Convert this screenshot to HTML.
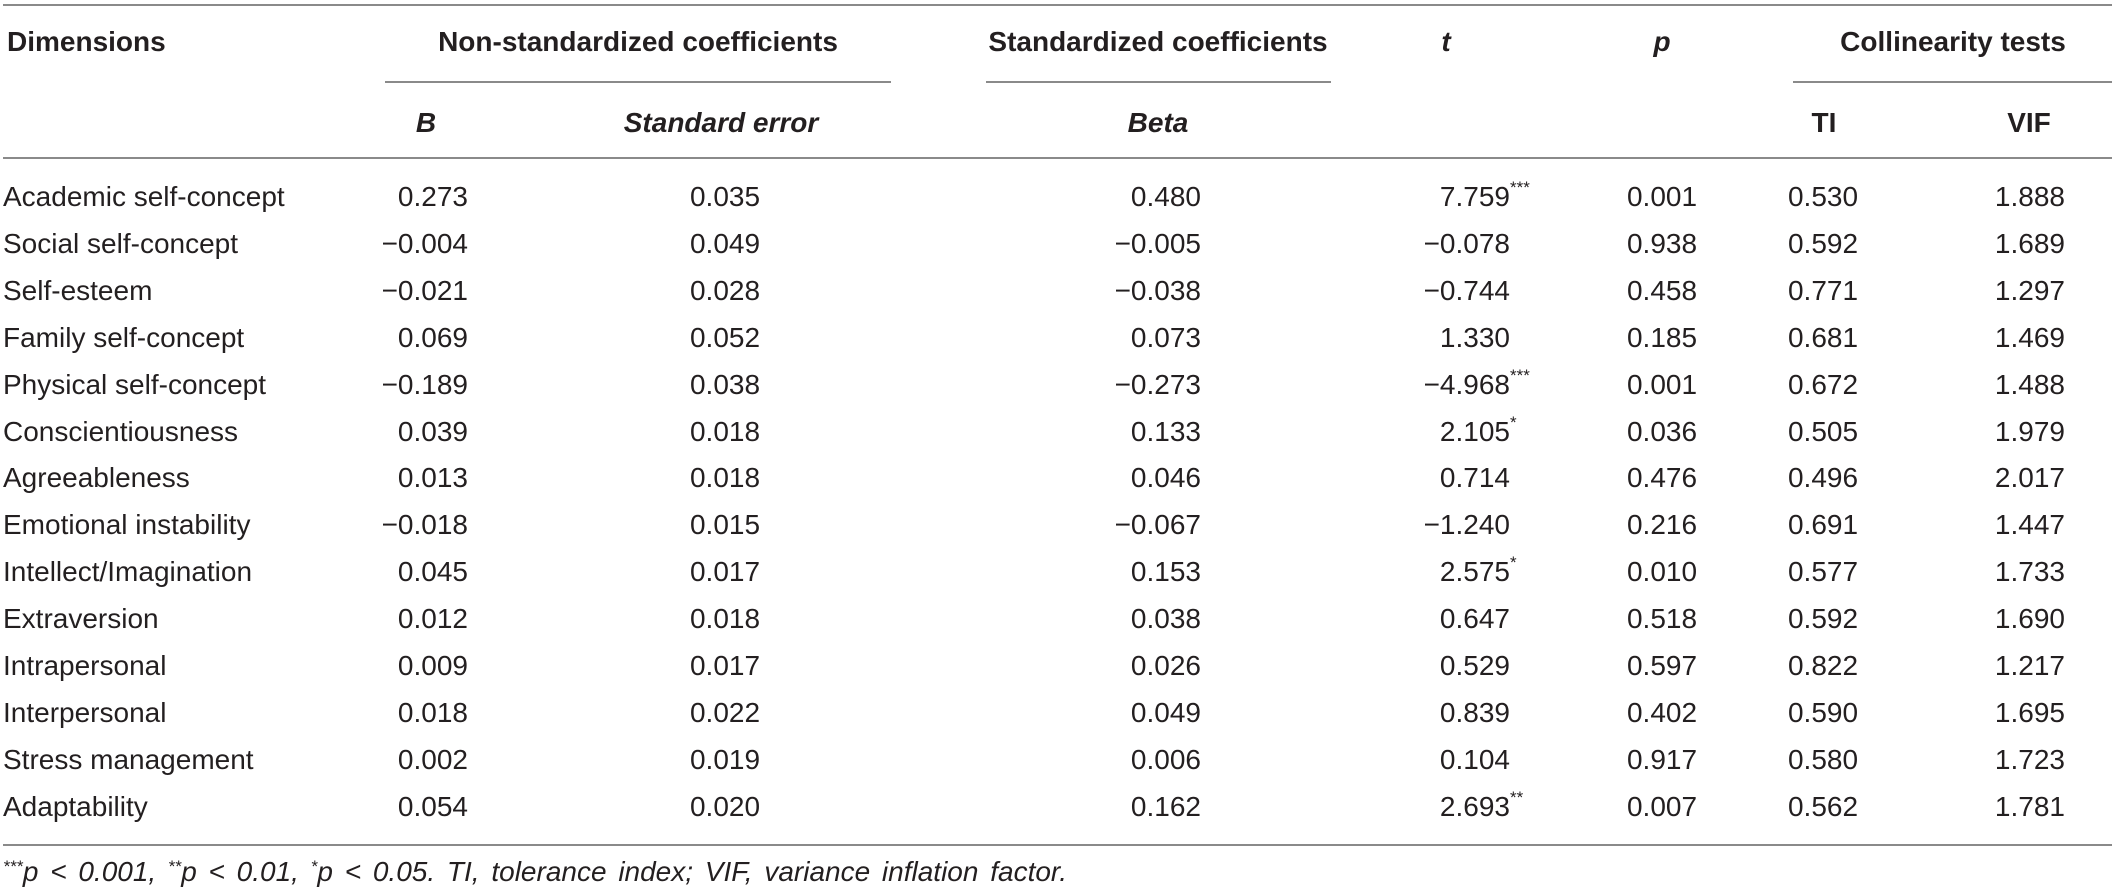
<!DOCTYPE html>
<html><head><meta charset="utf-8">
<style>
html,body{margin:0;padding:0;background:#fff;}
#t{position:relative;width:2118px;height:893px;overflow:hidden;font-family:"Liberation Sans",Arial,sans-serif;color:#231f20;}
.c{position:absolute;height:40px;line-height:40px;font-size:28px;white-space:nowrap;}
.h{font-weight:bold;}
.i{font-style:italic;}
.rule{position:absolute;height:2px;background:#8a8a8a;}
.star{font-size:17px;position:relative;top:-9px;}
</style></head><body>
<div id="t">
  <div class="rule" style="left:3px;top:4px;width:2109px"></div>
  <div class="rule" style="left:385px;top:81px;width:506px"></div>
  <div class="rule" style="left:986px;top:81px;width:345px"></div>
  <div class="rule" style="left:1793px;top:81px;width:319px"></div>
  <div class="rule" style="left:3px;top:157px;width:2109px"></div>
  <div class="rule" style="left:3px;top:844px;width:2109px"></div>

  <div class="c h" style="left:7px;top:22px">Dimensions</div>
  <div class="c h" style="left:638px;top:22px;transform:translateX(-50%)">Non-standardized coefficients</div>
  <div class="c h" style="left:1158px;top:22px;transform:translateX(-50%)">Standardized coefficients</div>
  <div class="c h i" style="left:1446px;top:22px;transform:translateX(-50%)">t</div>
  <div class="c h i" style="left:1662px;top:22px;transform:translateX(-50%)">p</div>
  <div class="c h" style="left:1953px;top:22px;transform:translateX(-50%)">Collinearity tests</div>

  <div class="c h i" style="left:426px;top:103px;transform:translateX(-50%)">B</div>
  <div class="c h i" style="left:721px;top:103px;transform:translateX(-50%)">Standard error</div>
  <div class="c h i" style="left:1158px;top:103px;transform:translateX(-50%)">Beta</div>
  <div class="c h" style="left:1824px;top:103px;transform:translateX(-50%)">TI</div>
  <div class="c h" style="left:2029px;top:103px;transform:translateX(-50%)">VIF</div>

  <div class="c i" style="left:3px;top:852px;font-size:28px;word-spacing:4px"><span class="star" style="font-size:17px;top:-9px">***</span>p &lt; 0.001, <span class="star" style="font-size:17px;top:-9px">**</span>p &lt; 0.01, <span class="star" style="font-size:17px;top:-9px">*</span>p &lt; 0.05. TI, tolerance index; VIF, variance inflation factor.</div>
</div>
<script>
const dims = ["Academic self-concept","Social self-concept","Self-esteem","Family self-concept","Physical self-concept","Conscientiousness","Agreeableness","Emotional instability","Intellect/Imagination","Extraversion","Intrapersonal","Interpersonal","Stress management","Adaptability"];
const bVals = ["0.273","\u22120.004","\u22120.021","0.069","\u22120.189","0.039","0.013","\u22120.018","0.045","0.012","0.009","0.018","0.002","0.054"];
const seVals = ["0.035","0.049","0.028","0.052","0.038","0.018","0.018","0.015","0.017","0.018","0.017","0.022","0.019","0.020"];
const betaVals = ["0.480","\u22120.005","\u22120.038","0.073","\u22120.273","0.133","0.046","\u22120.067","0.153","0.038","0.026","0.049","0.006","0.162"];
const tVals = ["7.759","\u22120.078","\u22120.744","1.330","\u22124.968","2.105","0.714","\u22121.240","2.575","0.647","0.529","0.839","0.104","2.693"];
const tStars = ["***","","","","***","*","","","*","","","","","**"];
const pVals = ["0.001","0.938","0.458","0.185","0.001","0.036","0.476","0.216","0.010","0.518","0.597","0.402","0.917","0.007"];
const tiVals = ["0.530","0.592","0.771","0.681","0.672","0.505","0.496","0.691","0.577","0.592","0.822","0.590","0.580","0.562"];
const vifVals = ["1.888","1.689","1.297","1.469","1.488","1.979","2.017","1.447","1.733","1.690","1.217","1.695","1.723","1.781"];

const root = document.getElementById('t');
function rowY(i){ return 197 + 46.9*i; }
function cell(text, x, align, i, name){
  const el = document.createElement('div');
  el.className = 'c';
  
  
  el.textContent = text;
  el.style.top = (rowY(i) - 20) + 'px';
  if (align === 'left') el.style.left = x + 'px';
  else if (align === 'right') el.style.right = (2118 - x) + 'px';
  else { el.style.left = x + 'px'; el.style.transform = 'translateX(-50%)'; }
  root.appendChild(el);
  return el;
}
dims.forEach((d, i) => {
  cell(d, 3, 'left', i, 'dimension-label');
  cell(bVals[i], 468, 'right', i, 'b-value');
  cell(seVals[i], 725, 'center', i, 'se-value');
  cell(betaVals[i], 1201, 'right', i, 'beta-value');
  const tc = cell(tVals[i], 1510, 'right', i, 't-value');
  if (tStars[i]) {
    const s = document.createElement('span');
    
    
    s.className = 'star';
    s.style.position = 'absolute';
    s.style.left = '100%';
    s.textContent = tStars[i];
    tc.appendChild(s);
  }
  cell(pVals[i], 1662, 'center', i, 'p-value');
  cell(tiVals[i], 1823, 'center', i, 'ti-value');
  cell(vifVals[i], 2065, 'right', i, 'vif-value');
});
</script>
</body></html>
